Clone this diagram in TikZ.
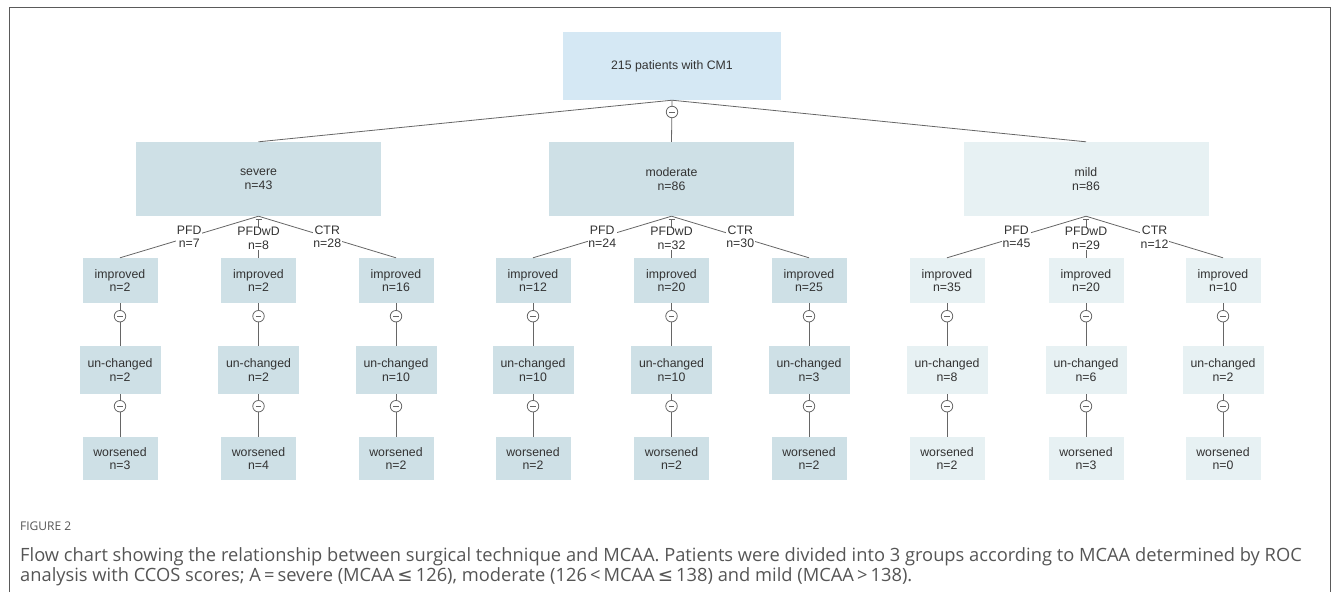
\documentclass[tikz,border=0pt]{standalone}
\usepackage{fontspec}
\setmainfont{Liberation Sans}
\newfontfamily\capfont{Open Sans}
\newfontfamily\symfont{DejaVu Sans}
\definecolor{topfill}{HTML}{D5E8F4}
\definecolor{darkfill}{HTML}{CEE0E6}
\definecolor{lightfill}{HTML}{E7F1F3}
\definecolor{edgegray}{HTML}{666666}
\definecolor{txt}{HTML}{333333}
\definecolor{capgray}{HTML}{555555}
\definecolor{framegray}{HTML}{5A5A5A}
\begin{document}
\begin{tikzpicture}[x=1pt,y=-1pt,
  box/.style={fill=#1, text=txt, font=\fontsize{12.3}{13.5}\selectfont, align=center, inner sep=0pt},
  rootbox/.style={box=topfill, minimum width=218, minimum height=68},
  grpbox/.style={box=#1, minimum width=245, minimum height=74},
  impbox/.style={minimum width=75, minimum height=45},
  unchbox/.style={minimum width=81, minimum height=48},
  worbox/.style={minimum width=75, minimum height=43},
  edge/.style={draw=edgegray, line width=0.8pt},
  lbl/.style={fill=white, text=txt, font=\fontsize{12.3}{13.5}\selectfont, align=center, inner sep=0.5pt},
  collapse/.style={circle, draw=edgegray, line width=0.8pt, fill=white, minimum size=11.5, inner sep=0pt,
    path picture={\draw[edgegray, line width=0.8pt] ([xshift=-2.6pt]path picture bounding box.center) -- ([xshift=2.6pt]path picture bounding box.center);}},
  framestyle/.style={draw=framegray, line width=1pt},
  captxt/.style={anchor=base west, text=capgray, inner sep=0pt}
]
\useasboundingbox (0,0) rectangle (1338,592);
\draw[framestyle] (9,592) -- (9,7) -- (1330,7) -- (1330,592);

% top and group nodes
\node[rootbox] (root) at (672,66) {215 patients with CM1};
\node[grpbox=darkfill] (severe) at (258.5,179) {severe\\n=43};
\node[grpbox=darkfill] (moderate) at (671.5,179) {moderate\\n=86};
\node[grpbox=lightfill] (mild) at (1086,179) {mild\\n=86};

\draw[edge] (root.south) -- (severe.north);
\draw[edge] (root.south) -- (mild.north);
\draw[edge] (root.south) -- (moderate.north);
\node[collapse] (c0) at (672,112) {};

% outcome columns
\foreach \id/\x/\f/\a/\b/\c in {s1/120/darkfill/2/2/3, s2/258.5/darkfill/2/2/4, s3/396/darkfill/16/10/2,
  m1/533/darkfill/12/10/2, m2/671.5/darkfill/20/10/2, m3/809/darkfill/25/3/2,
  l1/947/lightfill/35/8/2, l2/1086/lightfill/20/6/3, l3/1223/lightfill/10/2/0} {
  \node[box=\f, impbox] (\id a) at (\x,280.5) {improved\\n=\a};
  \node[box=\f, unchbox] (\id b) at (\x,370) {un-changed\\n=\b};
  \node[box=\f, worbox] (\id c) at (\x,458.5) {worsened\\n=\c};
  \draw[edge] (\id a) -- (\id b);
  \draw[edge] (\id b) -- (\id c);
  \node[collapse] (\id ca) at ([shift={(0,13)}]\id a.south) {};
  \node[collapse] (\id cb) at ([shift={(0,12)}]\id b.south) {};
}

% technique branches
\foreach \p/\q/\ta/\tb/\tc in {severe/s/7/8/28, moderate/m/24/32/30, mild/l/45/29/12} {
  \draw[edge] (\p.south) -- node[lbl] {PFD\\n=\ta} (\q1a.north);
  \draw[edge] ([shift={(0,3)}]\p.south) -- node[lbl] {PFDwD\\n=\tb} (\q2a.north);
  \draw[edge] (\p.south) -- node[lbl] {CTR\\n=\tc} (\q3a.north);
  \draw[edge] ([shift={(-3,3)}]\p.south) -- ([shift={(3,3)}]\p.south);
}

% caption
\node[captxt, font=\capfont\fontsize{12}{14}\selectfont] (figlbl) at (20,530) {FIGURE 2};
\node[captxt, font=\capfont\fontsize{18.3}{20}\selectfont] (cap1) at (20,561) {Flow chart showing the relationship between surgical technique and MCAA. Patients were divided into 3 groups according to MCAA determined by ROC};
\node[captxt, font=\capfont\fontsize{18.3}{20}\selectfont] (cap2) at (20,581) {analysis with CCOS scores; A\,=\,severe (MCAA\,{\symfont ≤}\,126), moderate (126\,<\,MCAA\,{\symfont ≤}\,138) and mild (MCAA\,>\,138).};
\end{tikzpicture}
\end{document}
